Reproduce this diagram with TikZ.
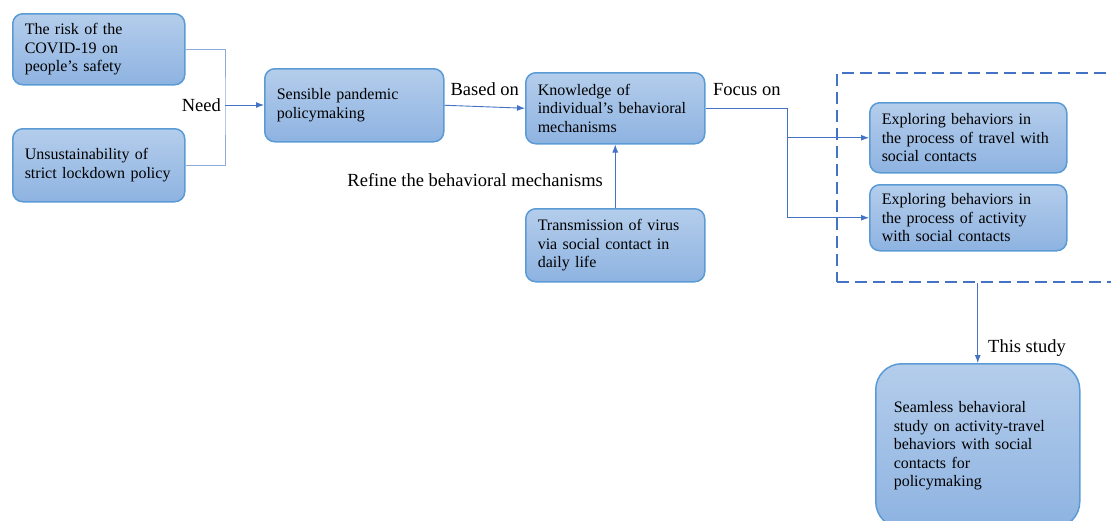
\documentclass[tikz,border=0pt]{standalone}
\usepackage{fontspec}
\setmainfont{Liberation Serif}
\usetikzlibrary{positioning,arrows.meta}
\definecolor{boxline}{HTML}{5B9BD5}
\definecolor{boxtop}{HTML}{B4CDEB}
\definecolor{boxbot}{HTML}{8EB3E1}
\definecolor{link}{HTML}{4472C4}
\definecolor{linklight}{HTML}{8EAADB}
\tikzset{
  flowbox/.style={draw=boxline, line width=1.5pt, rounded corners=10pt, top color=boxtop, bottom color=boxbot,
    anchor=north west, inner xsep=12pt, align=left, font=\fontsize{16}{18.5}\selectfont},
  tag/.style={font=\fontsize{18.5}{22}\selectfont, inner sep=0pt},
  arr/.style={draw=link, line width=0.9pt, -{Latex[length=8pt,width=6pt]}}
}
\begin{document}
\begin{tikzpicture}[x=1pt,y=-1pt]
\useasboundingbox (0,0) rectangle (1111,520);
\clip (0,0) rectangle (1111,520);
\node[flowbox, minimum width=172pt, minimum height=71pt, text width=148pt](risk) at (12,13){The risk of the\\COVID-19 on\\people's safety};
\node[flowbox, minimum width=172pt, minimum height=73pt, text width=148pt](unsus) at (12,128){Unsustainability of\\strict lockdown policy};
\node[flowbox, minimum width=179pt, minimum height=73pt, text width=155pt](policy) at (264,68){Sensible pandemic\\policymaking};
\node[flowbox, minimum width=179pt, minimum height=71pt, text width=155pt](know) at (525,72){Knowledge of\\individual's behavioral\\mechanisms};
\node[flowbox, minimum width=179pt, minimum height=73pt, text width=155pt](trans) at (525,208){Transmission of virus\\via social contact in\\daily life};
\node[draw=link, line width=1.8pt, dash pattern=on 12pt off 6pt, anchor=north west, minimum width=300pt, minimum height=209pt](frame) at (836,72){};
\node[flowbox, minimum width=197pt, minimum height=70pt, text width=173pt](trav) at (869,102){Exploring behaviors in\\the process of travel with\\social contacts};
\node[flowbox, minimum width=197pt, minimum height=66pt, text width=173pt](act) at (869,184){Exploring behaviors in\\the process of activity\\with social contacts};
\node[flowbox, rounded corners=26pt, inner xsep=18pt, minimum width=204pt, minimum height=164pt, text width=168pt](study) at (875,363){Seamless behavioral\\study on activity-travel\\behaviors with social\\contacts for\\policymaking};
\coordinate (need) at (225,105);
\coordinate (fork) at (787,0);
\draw[linklight, line width=0.9pt] (risk.east) -| (need) |- (unsus.east);
\path[arr] (need) -- (policy.west |- need);
\node[tag, anchor=east, left=4pt of need](needlab){Need};
\path[arr] (policy.east) -- node[tag, above=11pt](basedlab){Based on} (know.west);
\draw[link, line width=0.9pt] (know.east) -| (fork |- act.west);
\path[arr] (fork |- trav.west) -- (trav.west);
\path[arr] (fork |- act.west) -- (act.west);
\node[tag, anchor=south west](focuslab) at (713,96){Focus on};
\path[arr] (trans.north) -- (know.south);
\node[tag, anchor=east](refinelab) at (603,180){Refine the behavioral mechanisms};
\path[arr] (frame.south -| study.north) -- (study.north);
\node[tag, anchor=west](studylab) at (988,348){This study};
\end{tikzpicture}
\end{document}
